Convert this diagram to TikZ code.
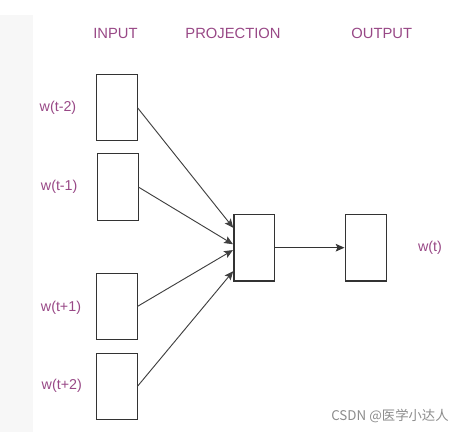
\documentclass[tikz,border=0pt]{standalone}
\usepackage{fontspec}
\usetikzlibrary{arrows.meta}
\setmainfont{Liberation Sans}
\newfontfamily\cjkfont{Noto Sans CJK SC}
\definecolor{wordpink}{RGB}{152,72,134}

\begin{document}
\begin{tikzpicture}[x=0.03cm,y=-0.03cm,shorten >=1pt,->,>={Stealth[length=7.5pt,width=6.5pt,inset=1.5pt]}]
  \tikzstyle{box}=[draw=black!80,line width=1pt,minimum width=1.22cm,minimum height=2cm,inner sep=0pt,outer sep=0pt]
  \tikzstyle{head}=[text=wordpink,font=\fontsize{12.6}{15}\selectfont,inner sep=0pt]
  \tikzstyle{word}=[text=wordpink,font=\fontsize{12.2}{15}\selectfont,inner sep=0pt]
  \useasboundingbox (0,0) rectangle (466,432);
  \fill[black!3] (0,15) rectangle (33,432);
  % column titles
  \node[head] (T_in) at (115.5,33.3) {INPUT};
  \node[head] (T_proj) at (233,33.3) {PROJECTION};
  \node[head] (T_out) at (381.7,33.3) {OUTPUT};
  % context words
  \node[box] (I_1) at (117,107.5) {};
  \node[box] (I_2) at (118,187) {};
  \node[box] (I_3) at (117,306.5) {};
  \node[box] (I_4) at (117,386.5) {};
  \node[word,anchor=west] (W_1) at (39.5,108.3) {w(t-2)};
  \node[word,anchor=west] (W_2) at (40.7,187) {w(t-1)};
  \node[word,anchor=west] (W_3) at (40.7,308) {w(t+1)};
  \node[word,anchor=west] (W_4) at (41.5,386) {w(t+2)};
  % hidden and output
  \node[box] (P) at (254.3,247.7) {};
  \node[box] (O) at (366,247.7) {};
  \node[word] (W_t) at (430,248) {w(t)};
  \draw[black!75,line width=0.8pt] (I_1.east) -- (P.137);
  \draw[black!75,line width=0.8pt] (I_2.east) -- (P.172);
  \draw[black!75,line width=0.8pt] (I_3.east) -- (P.185);
  \draw[black!75,line width=0.8pt] (I_4.east) -- (P.228);
  \draw[black!80,line width=0.9pt] (P) -- (O);
  \node[text=black!45,font=\cjkfont\fontsize{11.4}{14}\selectfont,inner sep=0pt] (mark) at (390,416) {CSDN @医学小达人};
\end{tikzpicture}
\end{document}
